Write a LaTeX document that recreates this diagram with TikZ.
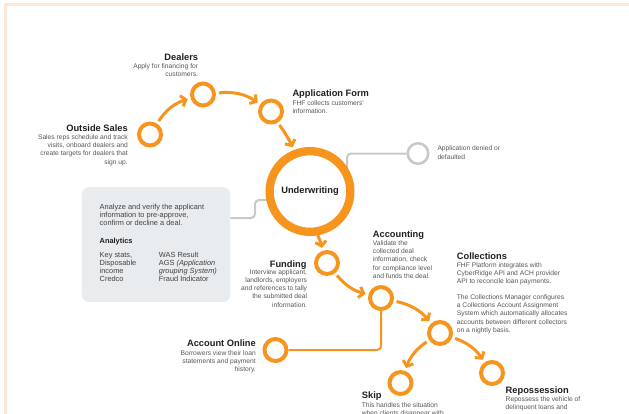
\documentclass[tikz,border=0pt]{standalone}
\usepackage{fontspec}
\setmainfont{Liberation Sans}
\usetikzlibrary{arrows.meta,backgrounds}
\definecolor{org}{HTML}{F7941D}
\definecolor{tc}{HTML}{1E1E1E}
\definecolor{bc}{HTML}{555555}
\definecolor{gl}{HTML}{C8C8C8}
\definecolor{boxc}{HTML}{E9ECEF}
\definecolor{peach}{HTML}{FDE8D8}
\begin{document}
\begin{tikzpicture}[x=1pt,y=-1pt,
  dot/.style={circle,draw=org,line width=4pt,minimum size=22pt,inner sep=0pt,fill=white},
  big/.style={circle,draw=org,line width=8.3pt,minimum size=80.7pt,inner sep=0pt,fill=white,
    font=\fontsize{9.3}{11}\selectfont\bfseries,text=tc},
  gdot/.style={circle,draw=gl,line width=2.5pt,minimum size=20.5pt,inner sep=0pt,fill=white},
  arr/.style={draw=org,line width=3pt,-{Straight Barb[length=4.5pt,width=11pt]},shorten <=3pt,shorten >=3pt},
  oline/.style={draw=org,line width=2pt,rounded corners=4pt},
  gline/.style={draw=gl,line width=2pt,rounded corners=4pt},
  ttl/.style={font=\fontsize{9.3}{11}\selectfont\bfseries,text=tc,inner sep=0pt},
  bd/.style={font=\fontsize{6.7}{8.3}\selectfont,text=bc,inner sep=0pt},
  bdc/.style={font=\fontsize{6.7}{8.1}\selectfont,text=bc,inner sep=0pt},
  bx/.style={font=\fontsize{7.4}{8.2}\selectfont,text=tc!85,inner sep=0pt},
  bxc/.style={font=\fontsize{7.4}{8.0}\selectfont,text=tc!85,inner sep=0pt},
  bxb/.style={font=\fontsize{7.4}{8.2}\selectfont\bfseries,text=tc,inner sep=0pt},
  panel/.style={fill=boxc,rounded corners=7pt,inner sep=0pt}
]
\useasboundingbox (0,0) rectangle (629,413);
\clip (0,0) rectangle (629,413);
\draw[peach,line width=2.5pt] (5.5,420) -- (5.5,4.3) -- (640,4.3);

% panel
\node[panel,minimum width=148.3pt,minimum height=114.7pt,anchor=north west] (box) at (81.7,187) {};

% circles
\node[dot] (os) at (150,134.5) {};
\node[dot] (dl) at (203,94.5) {};
\node[dot] (af) at (271,111.5) {};
\node[big] (uw) at (310,191.5) {Underwriting};
\node[gdot] (den) at (418,153.5) {};
\node[dot] (fu) at (327,263) {};
\node[dot] (ac) at (381,298) {};
\node[dot] (co) at (440,333) {};
\node[dot] (ao) at (275.5,350) {};
\node[dot] (sk) at (400.5,383) {};
\node[dot] (re) at (492,373) {};

\coordinate (gtop) at (347,153.5);
\coordinate (gbot) at (347,180);
\coordinate (bl1) at (255,218);
\coordinate (bl2) at (255,200);
\coordinate (bl3) at (272,200);

\begin{pgfonlayer}{background}
\draw[gline] (gbot) -- (gtop) -- (den);
\draw[gline] (box.east |- bl1) -- (bl1) -- (bl2) -- (bl3);
\draw[oline] (ac) |- (ao);
\end{pgfonlayer}

% arrows
\draw[arr] (os) to[bend left=20] (dl);
\draw[arr] (dl) to[bend left=20] (af);
\draw[arr] (af) to[bend left=5] (uw);
\draw[arr,shorten <=0pt] (uw.-80) to[bend left=6] (fu.110);
\draw[arr] (fu) to[bend right=18] (ac);
\draw[arr] (ac) to[bend left=18] (co);
\draw[arr] (co) to[bend right=18] (sk);
\draw[arr] (co) to[bend left=18] (re);

% texts (multi-line nodes: base = last line)
\node[ttl,anchor=base east] (ost) at (128,131.5) {Outside Sales};
\node[bd,anchor=base east,align=right] (osb) at (128,164.2) {Sales reps schedule and track\\visits, onboard dealers and\\create targets for dealers that\\sign up.};

\node[ttl,anchor=base east] (dlt) at (198.3,60.7) {Dealers};
\node[bd,anchor=base east,align=right] (dlb) at (198.3,76.8) {Apply for financing for\\customers.};

\node[ttl,anchor=base west] (aft) at (292.3,96.5) {Application Form};
\node[bd,anchor=base west,align=left] (afb) at (292.3,113.3) {FHF collects customers'\\information.};

\node[bd,anchor=base west,align=left] (dent) at (437.3,159) {Application denied or\\defaulted};

\node[bx,anchor=base west,align=left] (bx1) at (99.5,225.4) {Analyze and verify the applicant\\information to pre-approve,\\confirm or decline a deal.};
\node[bxb,anchor=base west] (bx2) at (99.5,243.5) {Analytics};
\node[bxc,anchor=base west,align=left] (bx3) at (99.5,281.5) {Key stats,\\Disposable\\income\\Credco};
\node[bxc,anchor=base west,align=left] (bx4) at (158.7,281.5) {WAS Result\\AGS \textit{(Application}\\\textit{grouping System)}\\Fraud Indicator};

\node[ttl,anchor=base east] (fut) at (306.7,267) {Funding};
\node[bd,anchor=base east,align=right] (fub) at (307.3,307.2) {Interview applicant,\\landlords, employers\\and references to tally\\the submitted deal\\information.};

\node[ttl,anchor=base west] (act) at (372.7,237.5) {Accounting};
\node[bd,anchor=base west,align=left] (acb) at (372.7,278.5) {Validate the\\collected deal\\information, check\\for compliance level\\and funds the deal.};

\node[ttl,anchor=base west] (cot) at (456.7,259.5) {Collections};
\node[bdc,anchor=base west,align=left] (cob) at (456.7,332.1) {FHF Platform integrates with\\CyberRidge API and ACH provider\\API to reconcile loan payments.\\[8.1pt]The Collections Manager configures\\a Collections Account Assignment\\System which automatically allocates\\accounts between different collectors\\on a nightly basis.};

\node[ttl,anchor=base east] (aot) at (256,346.5) {Account Online};
\node[bd,anchor=base east,align=right] (aob) at (256,371.9) {Borrowers view their loan\\statements and payment\\history.};

\node[ttl,anchor=base west] (skt) at (361.7,398.3) {Skip};
\node[bd,anchor=base west,align=left] (skb) at (361.7,415.3) {This handles the situation\\when clients disappear with};

\node[ttl,anchor=base west] (ret) at (505.5,393.5) {Repossession};
\node[bd,anchor=base west,align=left] (reb) at (505.5,409.6) {Repossess the vehicle of\\delinquent loans and};
\end{tikzpicture}
\end{document}
